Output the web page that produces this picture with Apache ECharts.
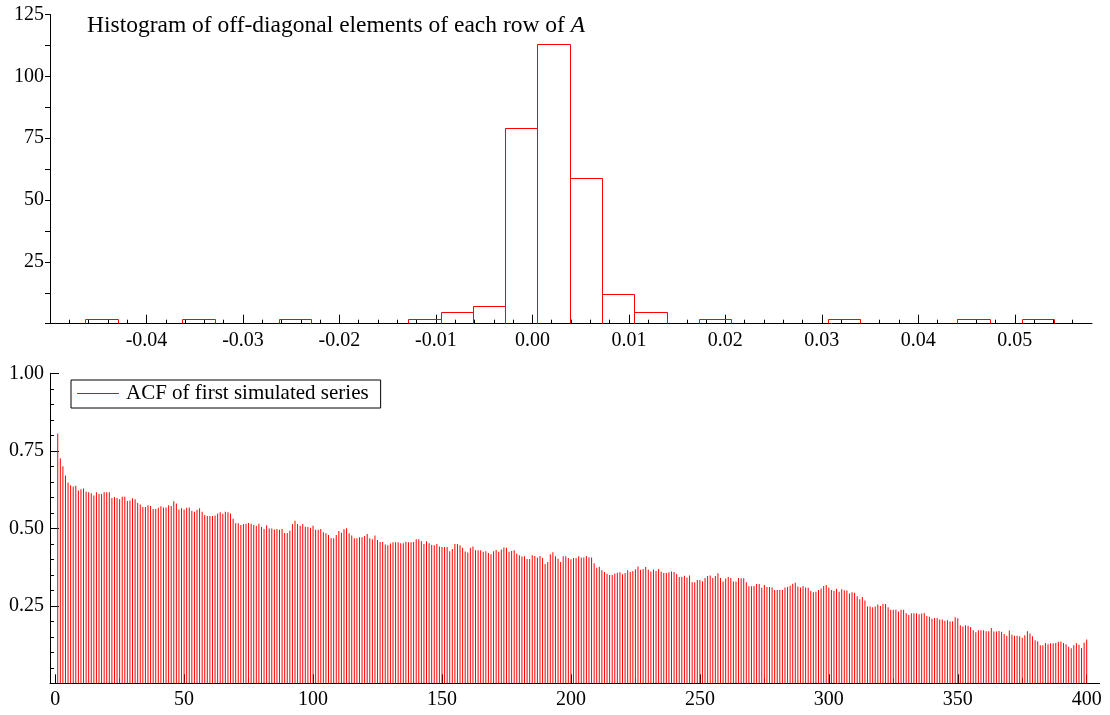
<!DOCTYPE html>
<html><head><meta charset="utf-8">
<script src="https://cdn.jsdelivr.net/npm/echarts@6/dist/echarts.min.js"></script>
<style>html,body{margin:0;padding:0;background:#fff}#c{width:1110px;height:715px}</style>
</head><body><div id="c"></div>
<script>
// ---- Histogram data (non-empty bins) ----
const histBinLeft  = [-0.04634,-0.03630,-0.02626,-0.01287,-0.00952,-0.00618,-0.00283,0.00052,0.00387,0.00721,0.01056,0.01725,0.03064,0.04403,0.05073];
const histBinRight = [-0.04299,-0.03295,-0.02291,-0.00952,-0.00618,-0.00283,0.00052,0.00387,0.00721,0.01056,0.01391,0.02060,0.03399,0.04738,0.05407];
const histCounts   = [2,2,2,2,4.6,7,79,113,59,12,4.6,2,2,2,2];
const histXTicks   = [-0.05,-0.04,-0.03,-0.02,-0.01,0,0.01,0.02,0.03,0.04,0.05];
const histXLabels  = [-0.04,-0.03,-0.02,-0.01,0,0.01,0.02,0.03,0.04,0.05];
const histYLabels  = [25,50,75,100,125];
const histTitle    = 'Histogram of off-diagonal elements of each row of ';
const histTitleVar = 'A';

// ---- ACF data (lags 1..400) ----
const acfName = 'ACF of first simulated series';
const acfValues = [
0.806,0.726,0.700,0.670,0.648,0.639,0.635,0.637,0.622,0.626,
0.628,0.618,0.616,0.613,0.606,0.616,0.611,0.611,0.616,0.616,
0.616,0.598,0.601,0.598,0.594,0.602,0.602,0.588,0.590,0.597,
0.594,0.582,0.577,0.569,0.569,0.574,0.572,0.562,0.562,0.566,
0.571,0.567,0.567,0.574,0.572,0.587,0.580,0.561,0.565,0.561,
0.566,0.567,0.556,0.553,0.560,0.565,0.553,0.543,0.540,0.540,
0.540,0.541,0.548,0.552,0.547,0.553,0.552,0.548,0.531,0.516,
0.516,0.511,0.514,0.515,0.517,0.515,0.511,0.508,0.515,0.504,
0.498,0.510,0.499,0.499,0.496,0.498,0.495,0.498,0.485,0.485,
0.492,0.514,0.524,0.514,0.508,0.514,0.505,0.504,0.501,0.508,
0.495,0.495,0.498,0.487,0.484,0.478,0.469,0.468,0.478,0.491,
0.486,0.497,0.500,0.484,0.477,0.468,0.468,0.471,0.471,0.475,
0.482,0.468,0.465,0.477,0.462,0.456,0.456,0.448,0.445,0.451,
0.455,0.455,0.455,0.452,0.452,0.457,0.455,0.455,0.456,0.465,
0.465,0.458,0.449,0.458,0.452,0.446,0.445,0.449,0.441,0.440,
0.440,0.440,0.426,0.433,0.449,0.449,0.445,0.437,
0.425,0.422,0.437,0.441,0.429,0.429,0.429,0.424,0.426,0.420,
0.416,0.426,0.430,0.424,0.432,0.438,0.437,0.424,0.427,0.429,
0.419,0.413,0.409,0.410,0.401,0.401,0.413,0.411,0.406,0.411,
0.404,0.385,0.391,0.416,0.423,0.410,0.402,0.391,0.410,0.410,
0.404,0.400,0.404,0.404,0.410,0.406,0.406,0.411,0.407,0.406,
0.387,0.373,0.376,0.365,0.359,0.353,0.349,0.349,0.354,0.357,
0.358,0.352,0.356,0.365,0.359,0.362,0.368,0.377,0.366,0.369,
0.375,0.366,0.361,0.367,0.362,0.369,0.360,0.356,0.356,0.358,
0.361,
0.359,0.353,0.343,0.343,0.347,0.341,0.348,0.326,0.326,0.333,
0.333,0.329,0.340,0.346,0.348,0.340,0.346,0.355,0.340,0.328,
0.338,0.343,0.340,0.328,0.328,0.340,0.339,0.339,0.326,0.313,
0.313,0.314,0.320,0.320,0.308,0.317,0.311,0.311,0.309,0.301,
0.301,0.301,0.301,0.309,0.311,0.315,0.321,0.324,0.312,0.309,
0.314,0.309,0.308,0.298,0.294,0.295,0.301,0.306,0.314,0.317,
0.309,0.301,0.298,0.305,0.295,0.303,0.300,0.299,0.290,0.294,
0.292,0.281,0.271,0.278,0.267,0.248,0.248,0.245,0.248,0.254,
0.249,0.256,0.256,0.245,0.237,0.237,0.237,0.232,0.237,0.237,
0.226,0.220,0.226,0.226,0.226,0.223,0.225,0.227,0.217,0.215,
0.208,0.211,0.211,0.206,0.206,0.202,0.203,0.199,0.200,0.213,
0.210,0.187,0.183,0.187,0.186,0.182,0.171,0.165,0.171,0.171,
0.171,0.168,0.168,0.178,0.167,0.167,0.169,0.166,0.159,0.153,
0.170,0.157,0.153,0.153,0.152,0.147,0.155,0.168,0.161,0.152,
0.139,0.136,0.123,0.123,0.130,0.126,0.129,0.129,0.130,0.134,
0.135,0.130,0.126,0.118,0.113,0.123,0.129,0.124,0.114,0.131,
0.141
];
const acfXTicks  = [0,50,100,150,200,250,300,350,400];
const acfXMinor  = [25,75,125,175,225,275,325,375];
const acfYLabels = [0.25,0.5,0.75,1.0];

// ---- chart ----
const FONT = '"Liberation Serif","Times New Roman",serif';
const histXMinor = [];
for (let k = -24; k <= 28; k++) { if (k % 5 !== 0) histXMinor.push(+(k * 0.002).toFixed(3)); }

const chart = echarts.init(document.getElementById('c'), null, {renderer: 'canvas'});
const lab = {color: '#000', fontFamily: FONT, fontSize: 20};

chart.setOption({
  animation: false,
  backgroundColor: '#fff',
  title: {
    left: 87, top: 14, padding: 0,
    text: '{n|' + histTitle + '}{i|' + histTitleVar + '}',
    textStyle: {rich: {
      n: {fontFamily: FONT, fontSize: 23.5, color: '#000', fontWeight: 'normal'},
      i: {fontFamily: FONT, fontSize: 23.5, color: '#000', fontWeight: 'normal', fontStyle: 'italic'}
    }}
  },
  legend: {
    data: [{name: acfName, icon: 'rect'}],
    left: 71, top: 380, orient: 'horizontal',
    itemWidth: 42, itemHeight: 1,
    padding: [3, 12, 4, 6],
    borderColor: '#000', borderWidth: 1, borderRadius: 0,
    textStyle: {fontFamily: FONT, fontSize: 21, color: '#000', padding: [0,0,0,2]},
    selectedMode: false
  },
  grid: [
    {left: 50, right: 18, top: 14.5, bottom: 391.3, outerBoundsMode: 'none'},
    {left: 50, right: 10.4, top: 373.3, bottom: 31.7, outerBoundsMode: 'none'}
  ],
  xAxis: [
    {gridIndex: 0, type: 'value', position: 'bottom', min: -0.05, max: 0.058,
     axisLine: {onZero: false, lineStyle: {color: '#000', width: 1}},
     axisTick: {inside: true, length: 9, customValues: histXTicks, lineStyle: {color: '#000'}},
     axisLabel: Object.assign({customValues: histXLabels, margin: 7, formatter: v => v.toFixed(2)}, lab),
     splitLine: {show: false}},
    {gridIndex: 0, type: 'value', position: 'bottom', min: -0.05, max: 0.058,
     axisLine: {show: false, onZero: false},
     axisTick: {inside: true, length: 4, customValues: histXMinor, lineStyle: {color: '#000'}},
     axisLabel: {show: false}, splitLine: {show: false}},
    {gridIndex: 1, type: 'value', position: 'bottom', min: -2, max: 405,
     axisLine: {onZero: false, lineStyle: {color: '#000', width: 1}},
     axisTick: {inside: true, length: 9, customValues: acfXTicks, lineStyle: {color: '#000'}},
     axisLabel: Object.assign({customValues: acfXTicks, margin: 6}, lab),
     splitLine: {show: false}},
    {gridIndex: 1, type: 'value', position: 'bottom', min: -2, max: 405,
     axisLine: {show: false, onZero: false},
     axisTick: {inside: true, length: 5, customValues: acfXMinor, lineStyle: {color: '#000'}},
     axisLabel: {show: false}, splitLine: {show: false}}
  ],
  yAxis: [
    {gridIndex: 0, type: 'value', position: 'left', min: 0, max: 125, interval: 25,
     axisLine: {show: true, onZero: false, lineStyle: {color: '#000', width: 1}},
     axisTick: {show: true, inside: false, length: 5, lineStyle: {color: '#000'}},
     minorTick: {show: true, splitNumber: 2, length: 5, lineStyle: {color: '#000'}},
     axisLabel: Object.assign({customValues: histYLabels, margin: 6}, lab),
     splitLine: {show: false}},
    {gridIndex: 1, type: 'value', position: 'left', min: 0, max: 1, interval: 0.25,
     axisLine: {show: true, onZero: false, lineStyle: {color: '#000', width: 1}},
     axisTick: {show: true, inside: true, length: 9, lineStyle: {color: '#000'}},
     minorTick: {show: true, splitNumber: 5, length: 4, lineStyle: {color: '#000'}},
     axisLabel: Object.assign({customValues: acfYLabels, margin: 6, formatter: v => v.toFixed(2)}, lab),
     splitLine: {show: false}}
  ],
  series: [
    {
      type: 'custom', name: 'hist', xAxisIndex: 0, yAxisIndex: 0,
      data: histBinLeft.map((l, i) => [l, histBinRight[i], histCounts[i]]),
      encode: {x: [0, 1], y: 2},
      renderItem: function (params, api) {
        const p0 = api.coord([api.value(0), 0]);
        const p1 = api.coord([api.value(1), api.value(2)]);
        const xa = Math.round(p0[0]) + 0.5, xb = Math.round(p1[0]) + 0.5;
        const yt = Math.round(p1[1]) + 0.5, yb = Math.round(p0[1]) - 0.5;
        return {type: 'polyline',
          shape: {points: [[xa, yb], [xa, yt], [xb, yt], [xb, yb]]},
          style: {fill: null, stroke: '#ff0000', lineWidth: 1}};
      },
      z: 3
    },
    {
      type: 'bar', name: acfName, xAxisIndex: 2, yAxisIndex: 1,
      data: acfValues.map((v, i) => [i + 1, v]),
      barWidth: 1,
      itemStyle: {color: '#ff0000'},
      z: 3
    }
  ]
});
</script>
</body></html>
